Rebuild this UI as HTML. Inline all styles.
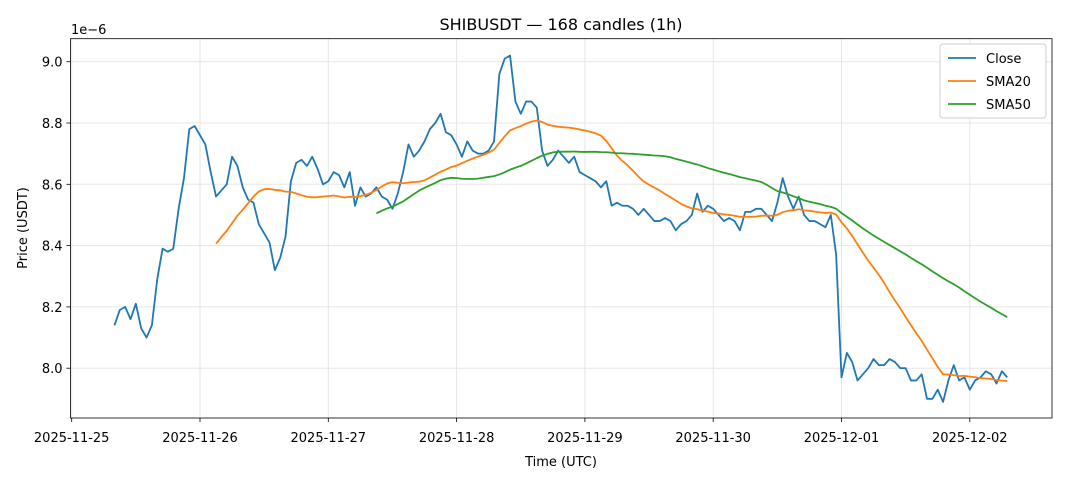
<!DOCTYPE html>
<html><head><meta charset="utf-8"><style>
body{margin:0;background:#fff;font-family:"Liberation Sans","DejaVu Sans",sans-serif}
svg text{font-family:"DejaVu Sans","Liberation Sans",sans-serif;fill:#000}
</style></head><body>
<svg id="c" width="1068" height="481"></svg>
<script>
const closes=[8.14,8.19,8.20,8.16,8.21,8.13,8.10,8.14,8.29,8.39,8.38,8.39,8.52,8.62,8.78,8.79,8.76,8.73,8.64,8.56,8.58,8.60,8.69,8.66,
8.59,8.55,8.54,8.47,8.44,8.41,8.32,8.36,8.43,8.61,8.67,8.68,8.66,8.69,8.65,8.60,8.61,8.64,8.63,8.59,8.64,8.53,8.59,8.56,
8.57,8.59,8.56,8.55,8.52,8.57,8.64,8.73,8.69,8.71,8.74,8.78,8.80,8.83,8.77,8.76,8.73,8.69,8.74,8.71,8.70,8.70,8.71,8.74,
8.96,9.01,9.02,8.87,8.83,8.87,8.87,8.85,8.71,8.66,8.68,8.71,8.69,8.67,8.69,8.64,8.63,8.62,8.61,8.59,8.61,8.53,8.54,8.53,
8.53,8.52,8.50,8.52,8.50,8.48,8.48,8.49,8.48,8.45,8.47,8.48,8.50,8.57,8.51,8.53,8.52,8.50,8.48,8.49,8.48,8.45,8.51,8.51,
8.52,8.52,8.50,8.48,8.54,8.62,8.56,8.52,8.56,8.50,8.48,8.48,8.47,8.46,8.50,8.37,7.97,8.05,8.02,7.96,7.98,8.00,8.03,8.01,
8.01,8.03,8.02,8.00,8.00,7.96,7.96,7.98,7.90,7.90,7.93,7.89,7.96,8.01,7.96,7.97,7.93,7.96,7.97,7.99,7.98,7.95,7.99,7.97];
const startHour=8; // 2025-11-25 08:00
const yTicks=[8.0,8.2,8.4,8.6,8.8,9.0];
const xTickLabels=["2025-11-25","2025-11-26","2025-11-27","2025-11-28","2025-11-29","2025-11-30","2025-12-01","2025-12-02"];
const L=70.5,R=1052,T=38.7,B=418;
const xd=d=>71.7+128.3*d; // days since 11-25 00:00
const xh=i=>xd((startHour+i)/24);
const y=v=>61.7+(9.0-v)*306.5;
const NS="http://www.w3.org/2000/svg";
const svg=document.getElementById('c');
function el(t,a,p){const e=document.createElementNS(NS,t);for(const k in a)e.setAttribute(k,a[k]);(p||svg).appendChild(e);return e;}
function sma(n){return closes.map((v,i)=>{if(i<n-1)return null;let s=0;for(let j=i-n+1;j<=i;j++)s+=closes[j];return s/n;});}
xTickLabels.forEach((lab,d)=>{const x=xd(d);
const g=el('line',{x1:x,x2:x,y1:T,y2:B,stroke:'#e6e6e6','stroke-width':1});


el('line',{x1:x,x2:x,y1:B,y2:B+4,stroke:'#000','stroke-width':0.8});
const t=el('text',{x:x,y:B+24,'text-anchor':'middle','font-size':13});t.textContent=lab;

});
yTicks.forEach(v=>{const yy=y(v);
const g=el('line',{x1:L,x2:R,y1:yy,y2:yy,stroke:'#e6e6e6','stroke-width':1});


el('line',{x1:L-4,x2:L,y1:yy,y2:yy,stroke:'#000','stroke-width':0.8});
const t=el('text',{x:L-8,y:yy+5,'text-anchor':'end','font-size':13});t.textContent=v.toFixed(1);

});
function line(vals,color,name){let d='';vals.forEach((v,i)=>{if(v==null)return;d+=(d?'L':'M')+xh(i).toFixed(2)+','+y(v).toFixed(2);});
const p=el('path',{d:d,fill:'none',stroke:color,'stroke-width':1.8,'stroke-linejoin':'round'});

}
line(closes,'#1f77b4','close-line');
line(sma(20),'#ff7f0e','sma20-line');
line(sma(50),'#2ca02c','sma50-line');
const fr=el('rect',{x:L,y:T,width:R-L,height:B-T,fill:'none',stroke:'#000','stroke-width':0.8});


function txt(s,a,name){const t=el('text',a);t.textContent=s;return t;}
txt('SHIBUSDT — 168 candles (1h)',{x:561,y:30,'text-anchor':'middle','font-size':16},'chart-title');
txt('1e−6',{x:71,y:34,'font-size':13},'y-scale-label');
txt('Time (UTC)',{x:561,y:466,'text-anchor':'middle','font-size':13},'x-axis-title');
txt('Price (USDT)',{x:27,y:228,'text-anchor':'middle','font-size':13,transform:'rotate(-90 27 228)'},'y-axis-title');
const lg=el('g',{});


el('rect',{x:940,y:44,width:106,height:74,rx:3,fill:'#fff',stroke:'#ccc','stroke-width':1},lg);
[['Close','#1f77b4'],['SMA20','#ff7f0e'],['SMA50','#2ca02c']].forEach((e,i)=>{const yy=58+i*23;
const s=el('line',{x1:948,x2:976,y1:yy,y2:yy,stroke:e[1],'stroke-width':1.8},lg);


const t=el('text',{x:986,y:yy+5,'font-size':13},lg);t.textContent=e[0];

});
</script>
</body></html>
